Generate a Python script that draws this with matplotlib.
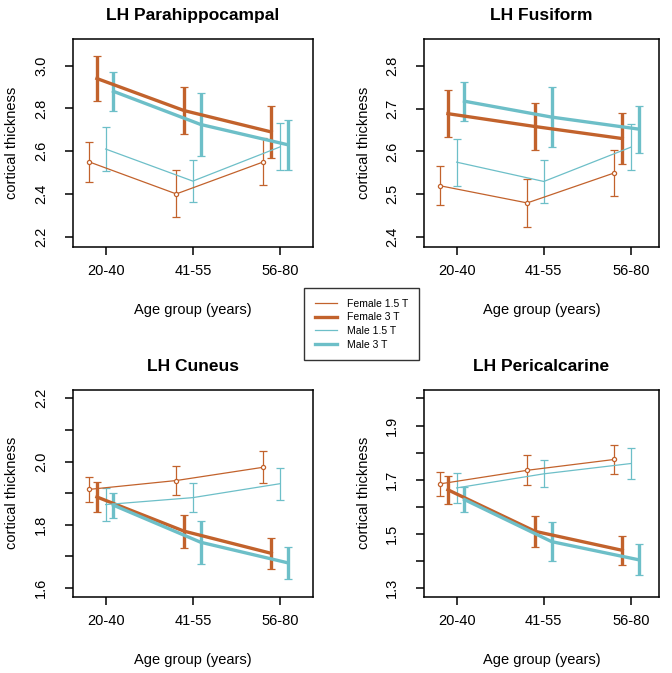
import numpy as np
import matplotlib
matplotlib.use('agg')
import matplotlib.pyplot as plt
from matplotlib.lines import Line2D

plt.rcParams['font.family'] = ['Liberation Sans', 'DejaVu Sans']

W, H = 672, 673

age_groups = ["20-40", "41-55", "56-80"]
groups = ["Female 1.5 T", "Female 3 T", "Male 1.5 T", "Male 3 T"]

# means and error (half width) per region, order as in groups
para_mean = [[2.55, 2.40, 2.55], [2.94, 2.79, 2.69], [2.61, 2.46, 2.62], [2.88, 2.725, 2.63]]
para_err = [[0.092, 0.11, 0.11], [0.107, 0.11, 0.12], [0.105, 0.10, 0.11], [0.09, 0.147, 0.117]]

fusi_mean = [[2.52, 2.48, 2.55], [2.688, 2.658, 2.63], [2.575, 2.53, 2.61], [2.717, 2.68, 2.652]]
fusi_err = [[0.045, 0.055, 0.054], [0.055, 0.055, 0.06], [0.055, 0.05, 0.053], [0.045, 0.07, 0.055]]

cune_mean = [[1.912, 1.94, 1.982], [1.888, 1.78, 1.71], [1.864, 1.886, 1.93], [1.862, 1.745, 1.68]]
cune_err = [[0.04, 0.047, 0.05], [0.047, 0.052, 0.05], [0.052, 0.045, 0.05], [0.04, 0.068, 0.05]]

peri_mean = [[1.685, 1.735, 1.775], [1.663, 1.51, 1.44], [1.67, 1.722, 1.76], [1.627, 1.472, 1.405]]
peri_err = [[0.043, 0.055, 0.053], [0.052, 0.058, 0.054], [0.055, 0.05, 0.058], [0.045, 0.073, 0.057]]

orange = '#C2622C'
cyan = '#6DBFC8'
colors = [orange, orange, cyan, cyan]
widths = [0.9, 2.4, 0.9, 2.4]
caps = [2.8, 3.2, 2.8, 3.2]
offsets = [-0.19, -0.10, 0.0, 0.09]


def px_rect(left, right, top, bottom):
    """axes rect in figure fractions from pixel edges"""
    return [left / W, 1 - bottom / H, (right - left) / W, (bottom - top) / H]


panels = [
    ("LH Parahippocampal", para_mean, para_err, px_rect(72.7, 313.3, 39, 246.7),
     (0.622, 3.382), (2.153, 3.125), [2.2, 2.4, 2.6, 2.8, 3.0], [2.2, 2.4, 2.6, 2.8, 3.0]),
    ("LH Fusiform", fusi_mean, fusi_err, px_rect(423.7, 659.3, 39, 246.7),
     (0.622, 3.325), (2.378, 2.862), [2.4, 2.5, 2.6, 2.7, 2.8], [2.4, 2.5, 2.6, 2.7, 2.8]),
    ("LH Cuneus", cune_mean, cune_err, px_rect(72.7, 313.3, 390, 596.7),
     (0.622, 3.382), (1.573, 2.226), [1.6, 1.7, 1.8, 1.9, 2.0, 2.1, 2.2], [1.6, 1.8, 2.0, 2.2]),
    ("LH Pericalcarine", peri_mean, peri_err, px_rect(423.7, 659.3, 390, 596.7),
     (0.622, 3.325), (1.269, 2.031), [1.3, 1.4, 1.5, 1.6, 1.7, 1.8, 1.9, 2.0], [1.3, 1.5, 1.7, 1.9]),
]

fig = plt.figure(figsize=(W / 100, H / 100), dpi=100)

x = np.arange(1, len(age_groups) + 1)

for title, means, errs, rect, xlim, ylim, yticks, ylabeled in panels:
    ax = fig.add_axes(rect)
    for i in range(len(groups)):
        ax.errorbar(x + offsets[i], means[i], yerr=errs[i], color=colors[i],
                    linewidth=widths[i], elinewidth=widths[i], capsize=caps[i],
                    capthick=widths[i], marker='o' if i == 0 else None,
                    markersize=3.0, markerfacecolor='white', markeredgewidth=0.9)
    ax.set_xlim(*xlim)
    ax.set_ylim(*ylim)
    ax.set_xticks(x)
    ax.set_xticklabels(age_groups)
    ax.set_yticks(yticks)
    ax.set_yticklabels(["{:.1f}".format(t) if t in ylabeled else "" for t in yticks],
                       rotation=90, va='center')
    ax.tick_params(axis='both', direction='out', length=5.8, width=1.1,
                   labelsize=10.5, colors='black')
    ax.tick_params(axis='x', pad=7)
    ax.tick_params(axis='y', pad=12)
    for s in ax.spines.values():
        s.set_linewidth(1.1)
    ax.set_ylabel("cortical thickness", fontsize=10.5, va='center')
    ax.yaxis.set_label_coords(-0.252, 0.5)
    ax.set_xlabel("Age group (years)", fontsize=10.5, va='center')
    ax.xaxis.set_label_coords(0.5, -63 / 207.0)
    ax.set_title(title, fontsize=12.5, fontweight='bold', pad=13.5)

handles = [Line2D([0], [0], color=colors[i], linewidth=widths[i]) for i in range(len(groups))]
leg = fig.legend(handles, groups, loc='upper left',
                 bbox_to_anchor=(304.3 / W, 1 - 288.3 / H), fontsize=7.5,
                 frameon=True, fancybox=False, edgecolor='black',
                 handlelength=2.1, handletextpad=1.0, borderpad=1.0,
                 labelspacing=0.35, borderaxespad=0)
leg.get_frame().set_linewidth(1.0)

fig.savefig("out.png", dpi=100, facecolor='white')
